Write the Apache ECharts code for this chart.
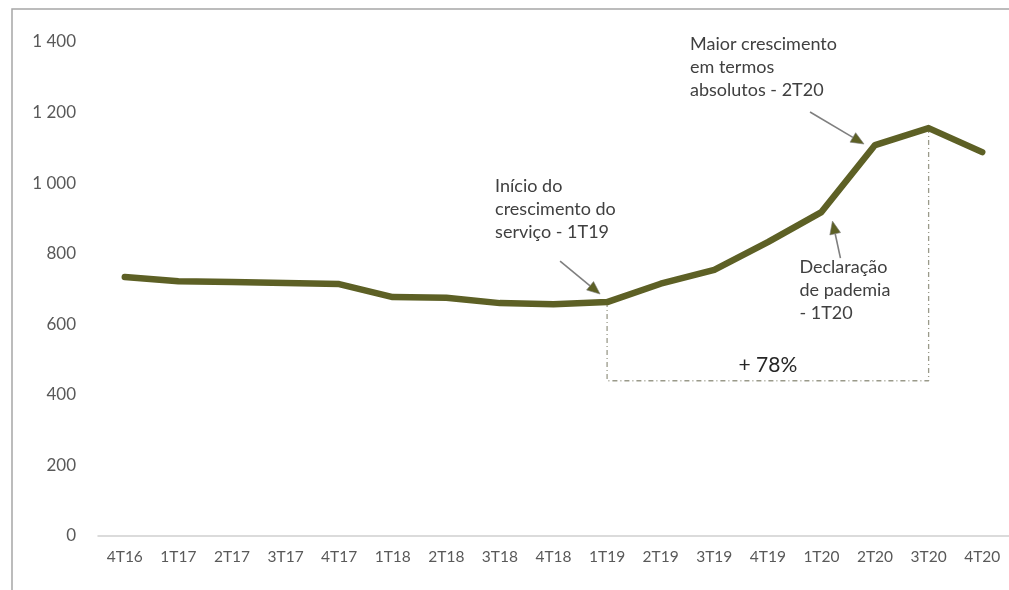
<!DOCTYPE html>
<html>
<head>
<meta charset="utf-8">
<style>
  html, body { margin: 0; padding: 0; background: #fff; }
  #chart { width: 1009px; height: 590px; }
</style>
<script src="https://cdn.jsdelivr.net/npm/echarts@6/dist/echarts.min.js"></script>
</head>
<body>
<div id="chart"></div>
<script>
// Quarterly series (trimestres)
const categories = ['4T16', '1T17', '2T17', '3T17', '4T17', '1T18', '2T18', '3T18', '4T18',
                    '1T19', '2T19', '3T19', '4T19', '1T20', '2T20', '3T20', '4T20'];
const values = [734, 722, 720, 717, 714, 677, 675, 660, 657, 663, 715, 754, 833, 918, 1108, 1156, 1088];
const yTicks = [0, 200, 400, 600, 800, 1000, 1200, 1400];

// Growth bracket between two quarters
const bracketFrom = '1T19';
const bracketTo = '3T20';
const bracketLevel = 440;
const bracketLabel = '+ 78%';

// Callouts: text, anchor quarter
const noteStart = { text: 'Início do\ncrescimento do\nserviço - 1T19', at: '1T19' };
const noteMax = { text: 'Maior crescimento\nem termos\nabsolutos - 2T20', at: '2T20' };
const notePandemic = { text: 'Declaração\nde pademia\n- 1T20', at: '1T20' };

const fromIdx = categories.indexOf(bracketFrom);
const toIdx = categories.indexOf(bracketTo);
const bracketData = [
  [bracketFrom, values[fromIdx]],
  [bracketFrom, bracketLevel],
  [bracketTo, bracketLevel],
  [bracketTo, values[toIdx]]
];

const FONT = 'Lato, "Open Sans", sans-serif';
const chart = echarts.init(document.getElementById('chart'), null, { renderer: 'canvas' });

const fmt = v => String(v).replace(/\B(?=(\d{3})+(?!\d))/g, ' ');

chart.setOption({
  animation: false,
  backgroundColor: '#ffffff',
  grid: { left: 98, right: 0, top: 42, bottom: 54, containLabel: false },
  xAxis: {
    type: 'category',
    data: categories,
    boundaryGap: true,
    axisLine: { show: true, lineStyle: { color: '#d0d0d0', width: 1.5 } },
    axisTick: { show: false },
    axisLabel: { color: '#595959', fontFamily: FONT, fontSize: 15.5, margin: 13 },
    splitLine: { show: false }
  },
  yAxis: {
    type: 'value',
    min: yTicks[0],
    max: yTicks[yTicks.length - 1],
    interval: 200,
    axisLine: { show: false },
    axisTick: { show: false },
    splitLine: { show: false },
    axisLabel: { color: '#595959', fontFamily: FONT, fontSize: 17, margin: 22, formatter: fmt }
  },
  series: [
    {
      name: 'bracket',
      type: 'line',
      data: bracketData,
      symbol: 'none',
      silent: true,
      z: 1,
      lineStyle: { color: '#9a9a8a', width: 1.3, type: [5, 3, 1, 3] }
    },
    {
      name: 'serviço',
      type: 'line',
      data: values,
      symbol: 'none',
      z: 3,
      lineStyle: { color: '#5d6025', width: 6.5, cap: 'round', join: 'round' }
    }
  ]
});

// Place callouts and arrows relative to the plotted points
function px(cat, val) {
  return chart.convertToPixel({ xAxisIndex: 0, yAxisIndex: 0 }, [cat, val]);
}
function arrow(from, to) {
  const dx = to[0] - from[0], dy = to[1] - from[1];
  const len = Math.sqrt(dx * dx + dy * dy);
  const ux = dx / len, uy = dy / len;
  const head = 13, half = 5.5;
  const bx = to[0] - ux * head, by = to[1] - uy * head;
  return [
    { type: 'line', z: 10, shape: { x1: from[0], y1: from[1], x2: bx, y2: by },
      style: { stroke: '#7f7f7f', lineWidth: 1.6 } },
    { type: 'polygon', z: 10, shape: { points: [
        [to[0], to[1]],
        [bx - uy * half, by + ux * half],
        [bx + uy * half, by - ux * half]
      ] }, style: { fill: '#5d6025', stroke: '#7f7f7f', lineWidth: 0.6 } }
  ];
}
function note(text, x, y) {
  return { type: 'text', z: 10, left: x, top: y,
    style: { text: text, fill: '#404040', font: '18px ' + FONT, lineHeight: 23 } };
}

const pStart = px(noteStart.at, values[categories.indexOf(noteStart.at)]);
const pMax = px(noteMax.at, values[categories.indexOf(noteMax.at)]);
const pPan = px(notePandemic.at, values[categories.indexOf(notePandemic.at)]);
const pA = px(bracketFrom, bracketLevel);
const pB = px(bracketTo, bracketLevel);

const graphics = [
  // frame
  { type: 'polyline', z: 0, shape: { points: [[12, 590], [12, 9], [1009, 9]] },
    style: { stroke: '#a6a6a6', lineWidth: 1.5, fill: null } },
  note(noteStart.text, pStart[0] - 112, pStart[1] - 127),
  note(noteMax.text, pMax[0] - 185, pMax[1] - 112),
  note(notePandemic.text, pPan[0] - 22, pPan[1] + 44),
  { type: 'text', z: 10, style: {
      text: bracketLabel, fill: '#262626', font: '21px ' + FONT,
      x: (pA[0] + pB[0]) / 2, y: pA[1] - 16, textAlign: 'center', textVerticalAlign: 'middle' } }
];
graphics.push(...arrow([pStart[0] - 47, pStart[1] - 41], [pStart[0] - 7, pStart[1] - 8]));
graphics.push(...arrow([pMax[0] - 65, pMax[1] - 33], [pMax[0] - 11, pMax[1] - 1]));
graphics.push(...arrow([pPan[0] + 19, pPan[1] + 46], [pPan[0] + 11, pPan[1] + 9]));

chart.setOption({ graphic: graphics });
</script>
</body>
</html>
